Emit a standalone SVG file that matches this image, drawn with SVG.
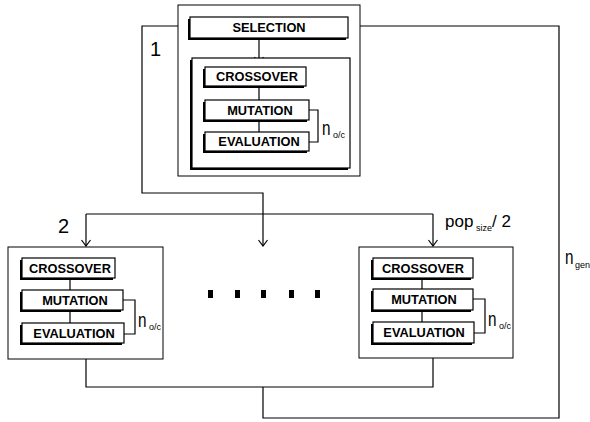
<svg xmlns="http://www.w3.org/2000/svg" width="590" height="422" viewBox="0 0 590 422">
<defs>
<style>
.frame{fill:#fff;stroke:#000;stroke-width:1}
.sh{fill:#000}
.box{fill:#fff;stroke:#000;stroke-width:1.2}
.lbl{font-family:"Liberation Sans",Arial,sans-serif;font-weight:bold;font-size:12.8px;text-anchor:middle;fill:#000}
.num{font-family:"Liberation Sans",Arial,sans-serif;font-size:20px;fill:#000}
.big{font-family:"Liberation Sans",Arial,sans-serif;font-size:20px;fill:#000}
.pop{font-family:"Liberation Sans",Arial,sans-serif;font-size:17px;fill:#000}
.sub{font-family:"Liberation Sans",Arial,sans-serif;font-size:9px;fill:#000}
.ln{fill:none;stroke:#000;stroke-width:1.2}
</style>
<marker id="ah" viewBox="-7 -5 8 10" refX="0" refY="0" markerWidth="8" markerHeight="10" markerUnits="userSpaceOnUse" orient="auto">
<path d="M-6,-4.5 L0,0 L-6,4.5" fill="none" stroke="#000" stroke-width="1.2"/>
</marker>
</defs>
<rect x="0" y="0" width="590" height="422" fill="#fff"/>

<g id="connectors">
<path class="ln" d="M190,26 H142 V193 H263 V246" marker-end="url(#ah)"/>
<path class="ln" d="M86,214 H433"/>
<path class="ln" d="M86,214 V246" marker-end="url(#ah)"/>
<path class="ln" d="M433,214 V246" marker-end="url(#ah)"/>
<path class="ln" d="M86,359 V387 H433 V358"/>
<path class="ln" d="M263,387 V418 H559 V26 H350" marker-end="url(#ah)"/>
</g>

<g id="node1">
<rect class="frame" x="178" y="5" width="182" height="171"/>
<rect class="sh" x="188" y="19" width="158" height="21"/>
<rect class="box" x="190" y="17" width="158" height="21"/>
<text class="lbl" x="269" y="32">SELECTION</text>
<path class="ln" d="M259,40 V63" marker-end="url(#ah)"/>
<rect class="sh" x="190" y="60" width="158" height="110"/>
<rect class="box" x="192" y="58" width="158" height="110"/>
<path class="ln" d="M259,86 V100 M259,120 V132 M309,110 H318 V142 H309"/>
<rect class="sh" x="203" y="69" width="101" height="19"/>
<rect class="box" x="205" y="67" width="101" height="19"/>
<text class="lbl" x="257" y="81">CROSSOVER</text>
<rect class="sh" x="203" y="102" width="104" height="20"/>
<rect class="box" x="205" y="100" width="104" height="20"/>
<text class="lbl" x="260" y="115">MUTATION</text>
<rect class="sh" x="203" y="134" width="104" height="19"/>
<rect class="box" x="205" y="132" width="104" height="19"/>
<text class="lbl" x="259" y="146">EVALUATION</text>
<text class="big" x="322" y="135" textLength="8.5" lengthAdjust="spacingAndGlyphs">n</text>
<text class="sub" x="333" y="138">o/c</text>
<text class="num" x="150" y="56">1</text>
</g>

<g id="node2">
<rect class="frame" x="8" y="247" width="155" height="112"/>
<path class="ln" d="M70,278 V290 M70,310 V323 M123,300 H135 V334 H124"/>
<rect class="sh" x="20" y="260" width="93" height="20"/>
<rect class="box" x="22" y="258" width="93" height="20"/>
<text class="lbl" x="70" y="273">CROSSOVER</text>
<rect class="sh" x="20" y="292" width="101" height="20"/>
<rect class="box" x="22" y="290" width="101" height="20"/>
<text class="lbl" x="75" y="305">MUTATION</text>
<rect class="sh" x="20" y="325" width="102" height="20"/>
<rect class="box" x="22" y="323" width="102" height="20"/>
<text class="lbl" x="74" y="338">EVALUATION</text>
<text class="big" x="138" y="327" textLength="8.5" lengthAdjust="spacingAndGlyphs">n</text>
<text class="sub" x="149" y="330">o/c</text>
<text class="num" x="58" y="233">2</text>
</g>

<g id="node3">
<rect class="frame" x="359" y="247" width="154" height="111"/>
<path class="ln" d="M422,278 V289 M422,310 V322 M473,299 H485 V333 H474"/>
<rect class="sh" x="371" y="260" width="100" height="20"/>
<rect class="box" x="373" y="258" width="100" height="20"/>
<text class="lbl" x="423" y="273">CROSSOVER</text>
<rect class="sh" x="371" y="291" width="100" height="21"/>
<rect class="box" x="373" y="289" width="100" height="21"/>
<text class="lbl" x="424" y="304">MUTATION</text>
<rect class="sh" x="371" y="324" width="101" height="21"/>
<rect class="box" x="373" y="322" width="101" height="21"/>
<text class="lbl" x="424" y="337">EVALUATION</text>
<text class="big" x="488" y="326" textLength="8.5" lengthAdjust="spacingAndGlyphs">n</text>
<text class="sub" x="499" y="329">o/c</text>
<text class="pop" x="445" y="227">pop</text>
<text class="sub" x="476" y="231" font-size="6.5">size</text>
<text class="pop" x="492" y="227">/ 2</text>
</g>

<g id="dots">
<rect x="208" y="290" width="5" height="8" fill="#000"/>
<rect x="235" y="290" width="5" height="8" fill="#000"/>
<rect x="261" y="290" width="5" height="8" fill="#000"/>
<rect x="289" y="290" width="5" height="8" fill="#000"/>
<rect x="315" y="290" width="5" height="8" fill="#000"/>
</g>

<g id="ngen">
<text class="big" x="565" y="264" textLength="8.5" lengthAdjust="spacingAndGlyphs">n</text>
<text class="sub" x="575" y="268">gen</text>
</g>
</svg>
